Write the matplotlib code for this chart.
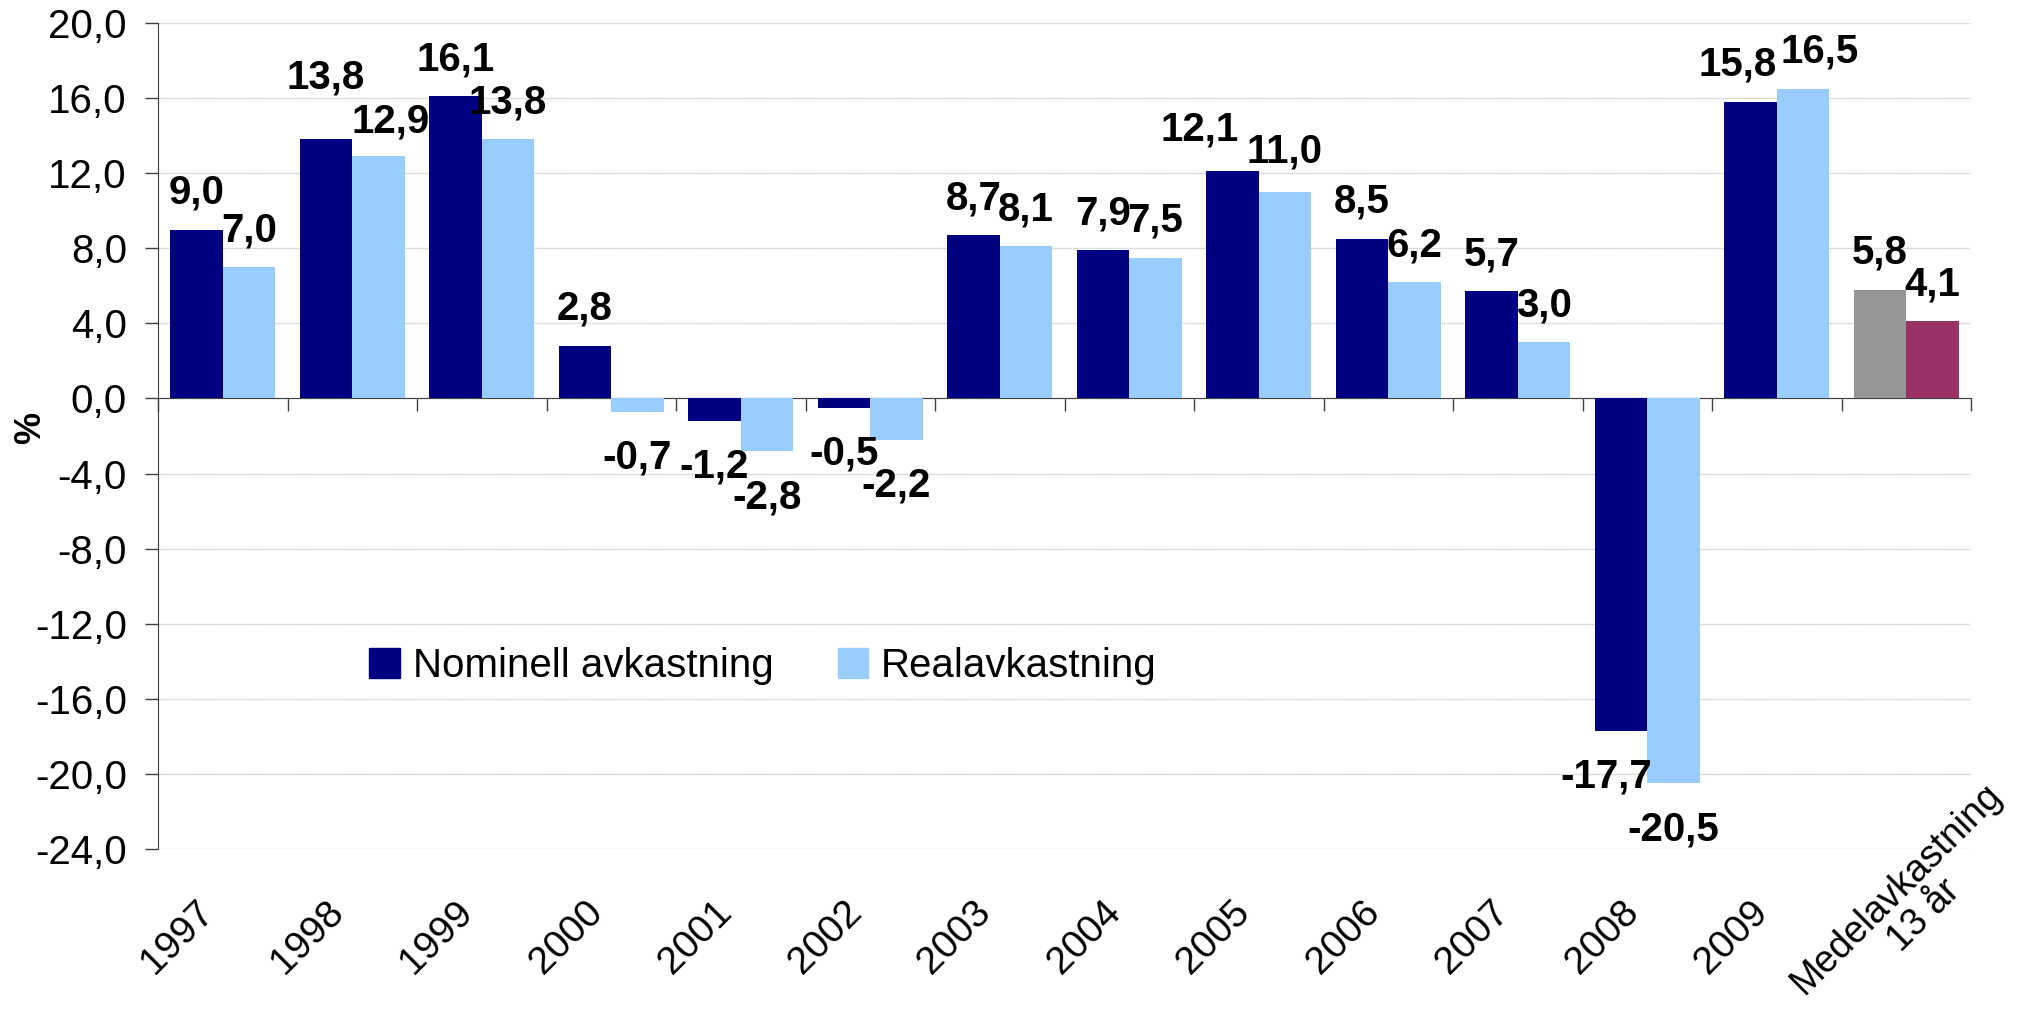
import numpy as np
import matplotlib
matplotlib.use("Agg")
import matplotlib.pyplot as plt
from matplotlib.patches import Patch
from matplotlib.ticker import FuncFormatter

plt.rcParams['font.family'] = ['Liberation Sans', 'DejaVu Sans']

categories = ['1997', '1998', '1999', '2000', '2001', '2002', '2003', '2004',
              '2005', '2006', '2007', '2008', '2009', 'Medelavkastning\n13 år']
nominell = [9.0, 13.8, 16.1, 2.8, -1.2, -0.5, 8.7, 7.9, 12.1, 8.5, 5.7, -17.7, 15.8, 5.8]
real = [7.0, 12.9, 13.8, -0.7, -2.8, -2.2, 8.1, 7.5, 11.0, 6.2, 3.0, -20.5, 16.5, 4.1]
yticks = [20, 16, 12, 8, 4, 0, -4, -8, -12, -16, -20, -24]

DARK = '#000080'
LIGHT = '#99CCFF'
nom_colors = [DARK] * (len(categories) - 1) + ['#969696']
real_colors = [LIGHT] * (len(categories) - 1) + ['#993366']

FS = 29
XFS = 28
W = 0.405
PX = 0.72  # points per pixel at dpi 100

# hand-moved value labels in the original (series, index) -> (dx, dy) in px
nudge = {(0, 1): (0, 25), (1, 1): (12, -2),
         (0, 8): (-33, 5), (1, 8): (0, 3),
         (0, 11): (-15, 0),
         (0, 12): (-13, 0), (1, 12): (17, 0)}

fig = plt.figure(figsize=(20.26, 10.13), dpi=100)
ax = fig.add_axes([158 / 2026, 1 - 849 / 1013, 1813 / 2026, 826 / 1013])

x = np.arange(len(categories))
ax.bar(x - W / 2, nominell, W, color=nom_colors, zorder=3)
ax.bar(x + W / 2, real, W, color=real_colors, zorder=3)

ax.set_xlim(-0.5, len(categories) - 0.5)
ax.set_ylim(-24, 20)
ax.set_yticks(yticks)
ax.yaxis.set_major_formatter(FuncFormatter(lambda v, p: f"{v:.1f}".replace('.', ',')))
ax.tick_params(axis='y', labelsize=FS, length=13 * PX, width=1, color='#404040', pad=13)
ax.grid(axis='y', color='#cccccc', lw=1, ls=(0, (1, 0.5)), zorder=0)

# x axis line at zero, tick marks at category boundaries
ax.spines['bottom'].set_position(('data', 0))
ax.spines['bottom'].set_color('#404040')
ax.spines['left'].set_color('#404040')
ax.spines['top'].set_visible(False)
ax.spines['right'].set_visible(False)
ax.set_xticks(np.arange(len(categories) + 1) - 0.5)
ax.set_xticklabels([])
ax.tick_params(axis='x', length=13 * PX, width=1, color='#404040', direction='out')

# category labels below the plot area
for i, cat in enumerate(categories):
    if '\n' in cat:
        ax.annotate(cat, (i, 0), xycoords=ax.get_xaxis_transform(), xytext=(4 * PX, -53 * PX),
                    textcoords='offset points', rotation=45, rotation_mode='anchor',
                    ha='center', va='center', multialignment='center', fontsize=27,
                    linespacing=1.1)
    else:
        ax.annotate(cat, (i, 0), xycoords=ax.get_xaxis_transform(), xytext=(-27 * PX, -45 * PX),
                    textcoords='offset points', rotation=45, rotation_mode='anchor',
                    ha='right', va='top', fontsize=XFS)

# value labels
for s, (xs, vals) in enumerate([(x - W / 2, nominell), (x + W / 2, real)]):
    for i, (xi, v) in enumerate(zip(xs, vals)):
        txt = f"{v:.1f}".replace('.', ',')
        dx, dy = nudge.get((s, i), (0, 0))
        if v >= 0:
            ax.annotate(txt, (xi, v), xytext=(dx * PX, (26 + dy) * PX), textcoords='offset points',
                        ha='center', va='baseline', fontsize=FS, fontweight='bold', zorder=5)
        else:
            ax.annotate(txt, (xi, v), xytext=(dx * PX, (-27 + dy) * PX), textcoords='offset points',
                        ha='center', va='top', fontsize=FS, fontweight='bold', zorder=5)

ax.set_ylabel('%', fontsize=26, fontweight='bold')
ax.yaxis.set_label_coords(-0.070, 0.51)
ax.yaxis.label.set_va('center')

handles = [Patch(color=DARK, label='Nominell avkastning'), Patch(color=LIGHT, label='Realavkastning')]
fig.legend(handles=handles, loc='center left', bbox_to_anchor=(369 / 2026, 1 - 666 / 1013),
           ncol=2, frameon=False, fontsize=FS, handlelength=0.76, handleheight=0.76,
           handletextpad=0.32, columnspacing=1.6, borderpad=0, borderaxespad=0)

fig.savefig('out.png', dpi=100)
